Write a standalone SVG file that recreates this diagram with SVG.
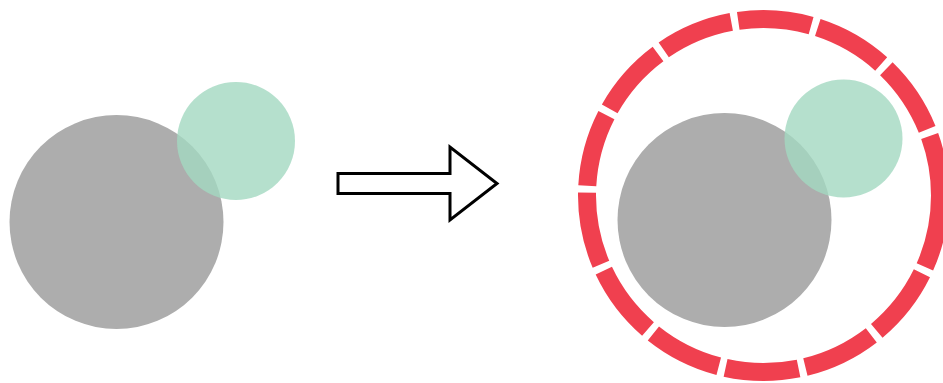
<svg xmlns="http://www.w3.org/2000/svg" width="943" height="383" viewBox="0 0 943 383">
  <style>
    .big { fill: #adadad; }
    .small { fill: #a2d8c1; fill-opacity: 0.8; }
    .ring { fill: none; stroke: #f0404f; stroke-width: 18; stroke-dasharray: 73.6 7; }
    .arrow { fill: #ffffff; stroke: #000000; stroke-width: 3; stroke-linejoin: miter; }
  </style>
  <rect width="943" height="383" fill="#ffffff"/>

  <!-- before: two overlapping circles -->
  <g id="before">
    <circle class="big" cx="116.5" cy="222" r="107"/>
    <circle class="small" cx="236" cy="141" r="59"/>
  </g>

  <!-- transition arrow -->
  <g id="connectors">
    <polygon class="arrow" points="338,173.5 450,173.5 450,147 497,183.5 450,220 450,193.5 338,193.5"/>
  </g>

  <!-- after: same circles enclosed by a dashed ring -->
  <g id="after">
    <circle class="big" cx="724.5" cy="220" r="107"/>
    <circle class="small" cx="843.5" cy="138.5" r="59"/>
    <circle class="ring" cx="763.5" cy="195.5" r="176.5"/>
  </g>
</svg>
